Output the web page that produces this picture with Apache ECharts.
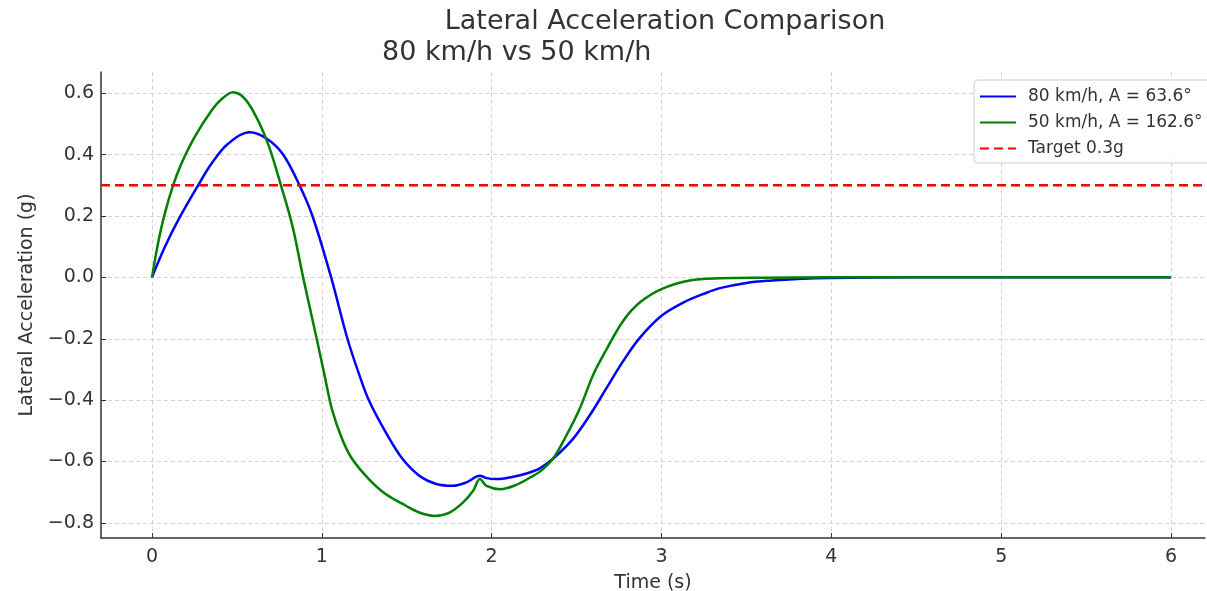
<!DOCTYPE html>
<html><head><meta charset="utf-8">
<script src="https://cdn.jsdelivr.net/npm/echarts@6/dist/echarts.min.js"></script>
<style>html,body{margin:0;padding:0;background:#fff}#c{width:1207px;height:591px}</style>
</head><body><div id="c"></div>
<script>
const time80 = [0, 0.075, 0.153, 0.271, 0.35, 0.448, 0.576, 0.672, 0.77, 0.868, 0.945, 1.055, 1.151, 1.228, 1.277, 1.376, 1.475, 1.574, 1.673, 1.772, 1.851, 1.931, 1.97, 2.03, 2.12, 2.21, 2.283, 2.361, 2.479, 2.578, 2.676, 2.774, 2.872, 3.0, 3.128, 3.265, 3.344, 3.5, 3.65, 3.8, 4.0, 4.5, 5.0, 5.5, 6.0];
const acc80 = [0, 0.098, 0.185, 0.299, 0.37, 0.435, 0.473, 0.453, 0.402, 0.301, 0.20, 0.0, -0.2, -0.329, -0.40, -0.504, -0.591, -0.646, -0.673, -0.679, -0.668, -0.646, -0.654, -0.657, -0.65, -0.638, -0.622, -0.591, -0.526, -0.449, -0.361, -0.273, -0.197, -0.125, -0.082, -0.05, -0.035, -0.018, -0.01, -0.005, -0.002, 0, 0, 0, 0];
const time50 = [0, 0.035, 0.075, 0.124, 0.173, 0.251, 0.35, 0.409, 0.477, 0.55, 0.63, 0.69, 0.76, 0.829, 0.89, 0.97, 1.02, 1.06, 1.119, 1.178, 1.277, 1.376, 1.495, 1.574, 1.663, 1.752, 1.832, 1.891, 1.931, 1.97, 2.05, 2.14, 2.23, 2.286, 2.361, 2.44, 2.519, 2.598, 2.676, 2.774, 2.872, 3.0, 3.167, 3.344, 3.6, 4.0, 5.0, 6.0];
const acc50 = [0, 0.109, 0.207, 0.299, 0.37, 0.457, 0.543, 0.58, 0.603, 0.58, 0.505, 0.425, 0.299, 0.163, 0.0, -0.2, -0.329, -0.43, -0.526, -0.591, -0.657, -0.706, -0.744, -0.766, -0.777, -0.766, -0.733, -0.695, -0.657, -0.679, -0.69, -0.677, -0.651, -0.632, -0.591, -0.515, -0.427, -0.317, -0.235, -0.142, -0.082, -0.038, -0.010, -0.003, -0.001, 0, 0, 0];
const targetTime = [-0.3, 6.3];
const targetAcc = [0.3, 0.3];
const xTicks = [0, 1, 2, 3, 4, 5, 6];
const yTicks = [-0.8, -0.6, -0.4, -0.2, 0.0, 0.2, 0.4, 0.6];
const seriesNames = ['80 km/h, A = 63.6°', '50 km/h, A = 162.6°', 'Target 0.3g'];
const titleText = 'Lateral Acceleration Comparison';
const subtitleText = '80 km/h vs 50 km/h';

const zip = (a, b) => a.map((v, i) => [v, b[i]]);
const font = 'DejaVu Sans';
const chart = echarts.init(document.getElementById('c'), null, {renderer: 'canvas'});
chart.setOption({
  animation: false,
  backgroundColor: '#fff',
  title: [
    {text: titleText, left: 660, top: 3, textAlign: 'center',
     textStyle: {fontFamily: font, fontSize: 27, fontWeight: 'normal', color: '#333'}},
    {text: subtitleText, left: 377, top: 34,
     textStyle: {fontFamily: font, fontSize: 27, fontWeight: 'normal', color: '#333'}}
  ],
  legend: {
    left: 974, top: 80, orient: 'vertical',
    itemWidth: 36, itemHeight: 14, itemGap: 9,
    padding: [8, 10, 6, 5],
    backgroundColor: 'rgba(255,255,255,0.85)',
    borderColor: '#d0d0d0', borderWidth: 1, borderRadius: 4,
    itemStyle: {opacity: 0},
    textStyle: {fontFamily: font, fontSize: 17, color: '#333', padding: [0, 0, 0, 7]},
    data: seriesNames
  },
  grid: {left: 101, right: 2, top: 72, bottom: 53, containLabel: false, outerBoundsMode: 'none'},
  xAxis: {
    type: 'value', min: -0.3, max: 6.2,
    name: 'Time (s)', nameLocation: 'middle', nameGap: 36,
    nameTextStyle: {fontFamily: font, fontSize: 19, color: '#333'},
    axisLine: {onZero: false, lineStyle: {color: '#333', width: 1.5}},
    axisTick: {inside: true, length: 5, customValues: xTicks, lineStyle: {color: '#333'}},
    axisLabel: {customValues: xTicks, fontFamily: font, fontSize: 19, color: '#333', margin: 10,
                formatter: v => String(v)},
    splitLine: {show: true, lineStyle: {color: '#d4d4d4', type: [4, 3], width: 1}}
  },
  yAxis: {
    type: 'value', min: -0.849, max: 0.669,
    name: 'Lateral Acceleration (g)', nameLocation: 'middle', nameGap: 64, nameRotate: 90,
    nameTextStyle: {fontFamily: font, fontSize: 19, color: '#333'},
    axisLine: {show: true, onZero: false, lineStyle: {color: '#333', width: 1.5}},
    axisTick: {show: true, inside: true, length: 5, customValues: yTicks, lineStyle: {color: '#333'}},
    axisLabel: {customValues: yTicks, fontFamily: font, fontSize: 19, color: '#333', margin: 7,
                formatter: v => (v < 0 ? '\u2212' : '') + Math.abs(v).toFixed(1)},
    splitLine: {show: true, lineStyle: {color: '#d4d4d4', type: [4, 3], width: 1}}
  },
  series: [
    {name: seriesNames[0], type: 'line', data: zip(time80, acc80), symbol: 'none',
     smooth: 0.35, lineStyle: {color: '#0000ff', width: 2.5}, itemStyle: {color: '#0000ff'}, z: 3},
    {name: seriesNames[1], type: 'line', data: zip(time50, acc50), symbol: 'none',
     smooth: 0.35, lineStyle: {color: '#008000', width: 2.5}, itemStyle: {color: '#008000'}, z: 4},
    {name: seriesNames[2], type: 'line', data: zip(targetTime, targetAcc), symbol: 'none',
     lineStyle: {color: '#ff0000', width: 2.5, type: [9, 5]}, itemStyle: {color: '#ff0000'}, z: 5}
  ]
});
</script></body></html>
